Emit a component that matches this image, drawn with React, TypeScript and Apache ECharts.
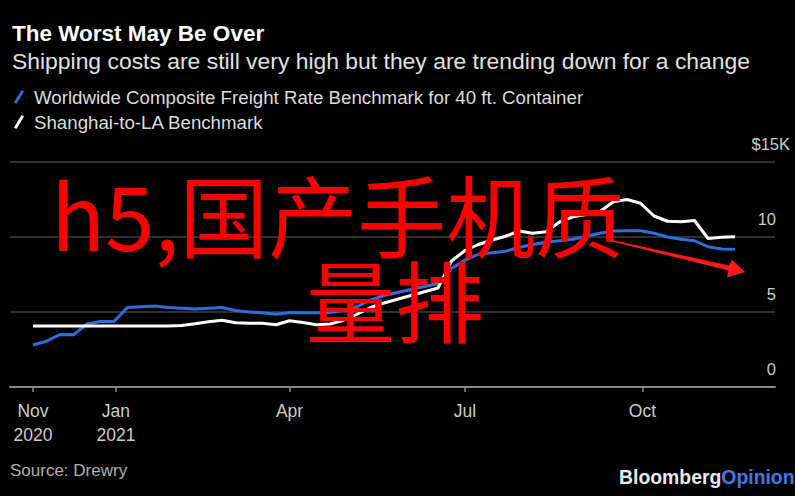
import React, { useEffect, useRef } from 'react';
import * as echarts from 'echarts';

const TITLE = 'The Worst May Be Over';
const SUBTITLE = 'Shipping costs are still very high but they are trending down for a change';
const SERIES_NAMES = [
  'Worldwide Composite Freight Rate Benchmark for 40 ft. Container',
  'Shanghai-to-LA Benchmark',
];
// Weekly readings (Thursdays, Nov 19 2020 .. Nov 18 2021), thousands of $ per 40 ft. container
const worldwide = [
  2.8, 3.05, 3.5, 3.48, 4.2, 4.36, 4.37, 5.3, 5.35, 5.4,
  5.3, 5.25, 5.2, 5.25, 5.3, 5.1, 5.0, 4.95, 4.85, 4.97,
  4.95, 4.95, 4.97, 5.1, 5.35, 5.8, 6.1, 6.3, 6.5, 6.7,
  6.9, 7.9, 8.45, 8.85, 8.95, 9.05, 9.3, 9.5, 9.65, 9.75,
  9.85, 10.05, 10.25, 10.4, 10.42, 10.42, 10.25, 10.0, 9.85, 9.75,
  9.35, 9.2, 9.18,
];
const shanghaiLA = [
  4.07, 4.07, 4.07, 4.07, 4.07, 4.07, 4.07, 4.07, 4.07, 4.07,
  4.07, 4.1, 4.22, 4.35, 4.45, 4.28, 4.25, 4.25, 4.15, 4.42,
  4.3, 4.15, 4.2, 4.45, 4.85, 5.3, 5.6, 5.85, 6.1, 6.35,
  6.6, 8.4, 9.1, 9.5, 9.8, 10.05, 10.4, 10.25, 10.35, 11.0,
  11.35, 11.5, 11.7, 12.35, 12.5, 12.25, 11.4, 11.05, 11.02, 11.1,
  9.9, 9.98, 10.02,
];
// tick positions in weeks since Nov 19 2020
const xTickWeeks = [0, 6.14, 19, 32, 45.14];
const xTickLabels = ['Nov\n2020', 'Jan\n2021', 'Apr', 'Jul', 'Oct'];
const yTicks = [0, 5, 10, 15];
const SOURCE = 'Source: Drewry';
const BRAND_A = 'Bloomberg';
const BRAND_B = 'Opinion';
const OVERLAY_LINE1 = 'h5,国产手机质';
const OVERLAY_LINE2 = '量排';

const FONT = '"Liberation Sans", Arial, Helvetica, sans-serif';
const CJK = '"Noto Sans CJK SC", sans-serif';
const BLUE = '#2f6ee0';
const WHITE = '#ffffff';

export default function App() {
  const ref = useRef<HTMLDivElement>(null);
  useEffect(() => {
    if (!ref.current) return;
    const chart = echarts.init(ref.current, null, { renderer: 'svg' });
    const slash = 'path://M0,13 L8,0 L10.5,1.5 L2.5,14.5 Z';
    chart.setOption({
      animation: false,
      backgroundColor: '#000000',
      title: {
        text: TITLE,
        subtext: SUBTITLE,
        left: 7,
        top: 17,
        itemGap: 4,
        textStyle: { color: '#ffffff', fontSize: 22.5, fontWeight: 'bold', fontFamily: FONT },
        subtextStyle: { color: '#e0e0e0', fontSize: 22.9, fontFamily: FONT },
      },
      legend: {
        orient: 'vertical',
        left: 9,
        top: 81,
        itemGap: 3,
        itemWidth: 10,
        itemHeight: 14,
        icon: slash,
        textStyle: { color: '#dddddd', fontSize: 18.7, fontFamily: FONT, lineHeight: 22, padding: [0, 0, 0, 5] },
        data: SERIES_NAMES,
      },
      grid: { left: 10, right: 20, top: 162, bottom: 109, containLabel: false },
      xAxis: {
        type: 'value',
        min: -1.704,
        max: 54.96,
        axisLine: { show: true, lineStyle: { color: '#8a8a8a', width: 2 } },
        axisTick: {
          show: true,
          customValues: xTickWeeks,
          length: 5,
          lineStyle: { color: '#8a8a8a', width: 1.5 },
        },
        axisLabel: {
          customValues: xTickWeeks,
          color: '#cccccc',
          fontSize: 17.5,
          lineHeight: 24,
          margin: 12,
          fontFamily: FONT,
          formatter: (v: number) => {
            const i = xTickWeeks.findIndex((t) => Math.abs(t - v) < 1e-6);
            return i >= 0 ? xTickLabels[i] : '';
          },
        },
        splitLine: { show: false },
      },
      yAxis: {
        type: 'value',
        position: 'right',
        min: yTicks[0],
        max: yTicks[yTicks.length - 1],
        interval: 5,
        axisLine: { show: false },
        axisTick: { show: false },
        splitLine: { show: true, lineStyle: { color: '#404040', width: 1.5 } },
        axisLabel: {
          inside: true,
          margin: -15,
          verticalAlign: 'bottom',
          padding: [0, 0, 10, 0],
          formatter: (v: number) => (v === 15 ? '{a|$15K}' : `{a|${v}}{s|}`),
          rich: {
            a: { color: '#cccccc', fontSize: 16.5, fontFamily: FONT },
            s: { width: 14 },
          },
        },
      },
      series: [
        {
          name: SERIES_NAMES[0],
          type: 'line',
          showSymbol: false,
          color: BLUE,
          lineStyle: { color: BLUE, width: 3 },
          data: worldwide.map((v, i) => [i, v]),
        },
        {
          name: SERIES_NAMES[1],
          type: 'line',
          showSymbol: false,
          color: WHITE,
          lineStyle: { color: WHITE, width: 3 },
          data: shanghaiLA.map((v, i) => [i, v]),
        },
      ],
      graphic: [
        {
          type: 'text',
          left: 10,
          top: 462,
          style: { text: SOURCE, fill: '#b0b0b0', fontSize: 17, fontFamily: FONT },
        },
        {
          type: 'text',
          left: 619,
          top: 467,
          style: {
            text: `{b|${BRAND_A}}{o|${BRAND_B}}`,
            rich: {
              b: { fill: '#e8e8e8', fontSize: 19.4, fontWeight: 'bold', fontFamily: FONT },
              o: { fill: '#3d7be6', fontSize: 19.4, fontWeight: 'bold', fontFamily: FONT },
            },
          },
        },
        {
          type: 'text',
          z: 100,
          x: 51,
          y: 212,
          style: {
            text: OVERLAY_LINE1,
            fill: '#ff0000',
            fontSize: 89,
            lineHeight: 76,
            fontFamily: CJK,
            verticalAlign: 'middle',
            align: 'left',
          },
        },
        {
          type: 'text',
          z: 100,
          x: 306,
          y: 297,
          style: {
            text: OVERLAY_LINE2,
            fill: '#ff0000',
            fontSize: 89,
            lineHeight: 76,
            fontFamily: CJK,
            verticalAlign: 'middle',
            align: 'left',
          },
        },
        {
          type: 'polygon',
          z: 100,
          shape: {
            points: [
              [610, 239.5],
              [729, 265.5],
              [732, 260],
              [745, 272],
              [727, 277.5],
              [728.5, 270.5],
              [610, 241],
            ],
          },
          style: { fill: '#ff1a1a' },
        },
      ],
    });
    return () => chart.dispose();
  }, []);
  return (
    <div
      ref={ref}
      style={{ position: 'fixed', left: 0, top: 0, width: 795, height: 496, background: '#000' }}
    />
  );
}
